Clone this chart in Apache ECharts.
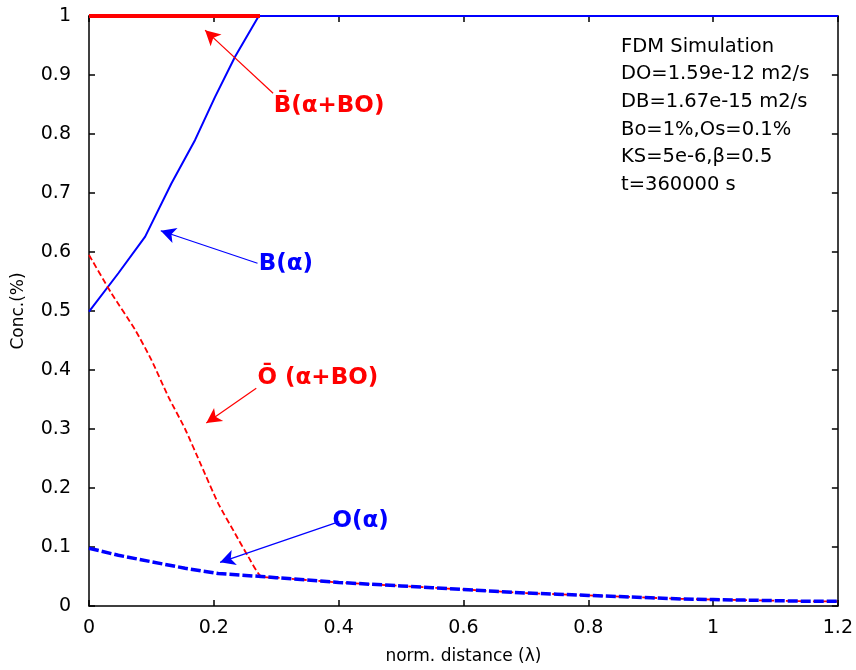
<!DOCTYPE html>
<html>
<head>
<meta charset="utf-8">
<script src="https://cdn.jsdelivr.net/npm/echarts@6/dist/echarts.min.js"></script>
<style>
html,body{margin:0;padding:0;background:#fff;}
#chart{width:856px;height:670px;}
</style>
</head>
<body>
<div id="chart"></div>
<script>
// ---- data ----
const xTicks = [0, 0.2, 0.4, 0.6, 0.8, 1, 1.2];
const yTicks = [0, 0.1, 0.2, 0.3, 0.4, 0.5, 0.6, 0.7, 0.8, 0.9, 1];

// B(alpha) – blue solid
const bAlphaX = [0, 0.047, 0.090, 0.132, 0.170, 0.202, 0.234, 0.272, 0.5, 0.8, 1.0, 1.2];
const bAlphaY = [0.499, 0.564, 0.626, 0.716, 0.790, 0.863, 0.931, 1.0, 1.0, 1.0, 1.0, 1.0];

// B-bar(alpha+BO) – red solid
const bBarX = [0, 0.1, 0.2, 0.274];
const bBarY = [1.0, 1.0, 1.0, 1.0];

// O-bar(alpha+BO) – red dashed
const oBarX = [0, 0.036, 0.074, 0.100, 0.127, 0.154, 0.180, 0.207, 0.234, 0.255, 0.276,
  0.3, 0.35, 0.4, 0.45, 0.5, 0.55, 0.6, 0.65, 0.7, 0.75, 0.8, 0.85, 0.9, 0.95, 1.0, 1.05, 1.1, 1.15, 1.2];
const oBarY = [0.595, 0.530, 0.468, 0.417, 0.355, 0.300, 0.238, 0.174, 0.123, 0.084, 0.050,
  0.048, 0.044, 0.040, 0.037, 0.034, 0.031, 0.028, 0.025, 0.022, 0.020, 0.018, 0.016, 0.014, 0.012, 0.011, 0.010, 0.009, 0.008, 0.008];

// O(alpha) – blue dashed
const oAlphaX = [0, 0.047, 0.100, 0.154, 0.207, 0.276,
  0.3, 0.35, 0.4, 0.45, 0.5, 0.55, 0.6, 0.65, 0.7, 0.75, 0.8, 0.85, 0.9, 0.95, 1.0, 1.05, 1.1, 1.15, 1.2];
const oAlphaY = [0.098, 0.086, 0.075, 0.064, 0.055, 0.050,
  0.048, 0.044, 0.040, 0.037, 0.034, 0.031, 0.028, 0.025, 0.022, 0.020, 0.018, 0.016, 0.014, 0.012, 0.011, 0.010, 0.009, 0.008, 0.008];

// annotations: [label, textX, textY, arrowFromX, arrowFromY, arrowToX, arrowToY]
const annotBBar   = ['B\u0304(\u03b1+BO)', 0.296, 0.847, 0.295, 0.869, 0.186, 0.976];
const annotBAlpha = ['B(\u03b1)', 0.272, 0.580, 0.270, 0.581, 0.115, 0.636];
const annotOBar   = ['O\u0304 (\u03b1+BO)', 0.270, 0.386, 0.268, 0.369, 0.188, 0.310];
const annotOAlpha = ['O(\u03b1)', 0.390, 0.144, 0.401, 0.143, 0.210, 0.074];

const infoLines = ['FDM Simulation', 'DO=1.59e-12 m2/s', 'DB=1.67e-15 m2/s',
  'Bo=1%,Os=0.1%', 'KS=5e-6,\u03b2=0.5', 't=360000 s'];

// ---- build ----
const zip = (xs, ys) => xs.map((x, i) => [x, ys[i]]);
const RED = '#ff0000', BLUE = '#0000ff';

function annot(a, color) {
  return {
    markLine: {
      silent: true, animation: false,
      symbol: ['none', 'arrow'], symbolSize: [12, 15],
      lineStyle: {color: color, width: 1.2, type: 'solid'},
      label: {show: false},
      data: [[{coord: [a[3], a[4]]}, {coord: [a[5], a[6]]}]]
    },
    markPoint: {
      silent: true, animation: false,
      symbol: 'circle', symbolSize: 0,
      label: {
        show: true, position: 'right', distance: 0,
        formatter: a[0], color: color,
        fontFamily: 'DejaVu Sans', fontWeight: 'bold', fontSize: 23
      },
      data: [{coord: [a[1], a[2]]}]
    }
  };
}

const axisFont = {fontFamily: 'DejaVu Sans', fontSize: 19, color: '#000'};
const nameFont = {fontFamily: 'DejaVu Sans', fontSize: 17, color: '#000'};
const lineBlack = {color: '#000', width: 1.5};

const option = {
  animation: false,
  backgroundColor: '#fff',
  grid: {left: 89, right: 17, top: 16, bottom: 64, containLabel: false},
  xAxis: [{
    type: 'value', min: xTicks[0], max: xTicks[xTicks.length - 1], interval: 0.2,
    position: 'bottom',
    name: 'norm. distance (\u03bb)', nameLocation: 'middle', nameGap: 42,
    nameTextStyle: nameFont,
    axisLine: {show: true, onZero: false, lineStyle: lineBlack},
    axisTick: {show: true, inside: true, length: 6, lineStyle: lineBlack},
    axisLabel: Object.assign({margin: 13}, axisFont),
    splitLine: {show: false}
  }, {
    type: 'value', min: xTicks[0], max: xTicks[xTicks.length - 1], interval: 0.2,
    position: 'top',
    axisLine: {show: true, onZero: false, lineStyle: lineBlack},
    axisTick: {show: true, inside: true, length: 6, lineStyle: lineBlack},
    axisLabel: {show: false},
    splitLine: {show: false}
  }],
  yAxis: [{
    type: 'value', min: yTicks[0], max: yTicks[yTicks.length - 1], interval: 0.1,
    position: 'left',
    name: 'Conc.(%)', nameLocation: 'middle', nameGap: 62, nameRotate: 90,
    nameTextStyle: nameFont,
    axisLine: {show: true, onZero: false, lineStyle: lineBlack},
    axisTick: {show: true, inside: true, length: 6, lineStyle: lineBlack},
    axisLabel: Object.assign({margin: 18}, axisFont),
    splitLine: {show: false}
  }, {
    type: 'value', min: yTicks[0], max: yTicks[yTicks.length - 1], interval: 0.1,
    position: 'right',
    axisLine: {show: true, onZero: false, lineStyle: lineBlack},
    axisTick: {show: true, inside: true, length: 6, lineStyle: lineBlack},
    axisLabel: {show: false},
    splitLine: {show: false}
  }],
  series: [
    Object.assign({
      name: 'Bbar', type: 'line', data: zip(bBarX, bBarY), showSymbol: false,
      lineStyle: {color: RED, width: 4}, z: 3
    }, annot(annotBBar, RED)),
    Object.assign({
      name: 'Balpha', type: 'line', data: zip(bAlphaX, bAlphaY), showSymbol: false,
      lineStyle: {color: BLUE, width: 2}, z: 2
    }, annot(annotBAlpha, BLUE)),
    Object.assign({
      name: 'Obar', type: 'line', data: zip(oBarX, oBarY), showSymbol: false,
      smooth: 0.2, lineStyle: {color: RED, width: 1.8, type: [6, 3]}, z: 2
    }, annot(annotOBar, RED)),
    Object.assign({
      name: 'Oalpha', type: 'line', data: zip(oAlphaX, oAlphaY), showSymbol: false,
      lineStyle: {color: BLUE, width: 3.5, type: [10, 3]}, z: 4
    }, annot(annotOAlpha, BLUE))
  ],
  graphic: [{
    type: 'text', left: 621, top: 33,
    style: {
      text: infoLines.join('\n'),
      font: '19.5px "DejaVu Sans"', fill: '#000', lineHeight: 27.6
    }
  }]
};

const chart = echarts.init(document.getElementById('chart'), null, {renderer: 'canvas'});
chart.setOption(option);
</script>
</body>
</html>
